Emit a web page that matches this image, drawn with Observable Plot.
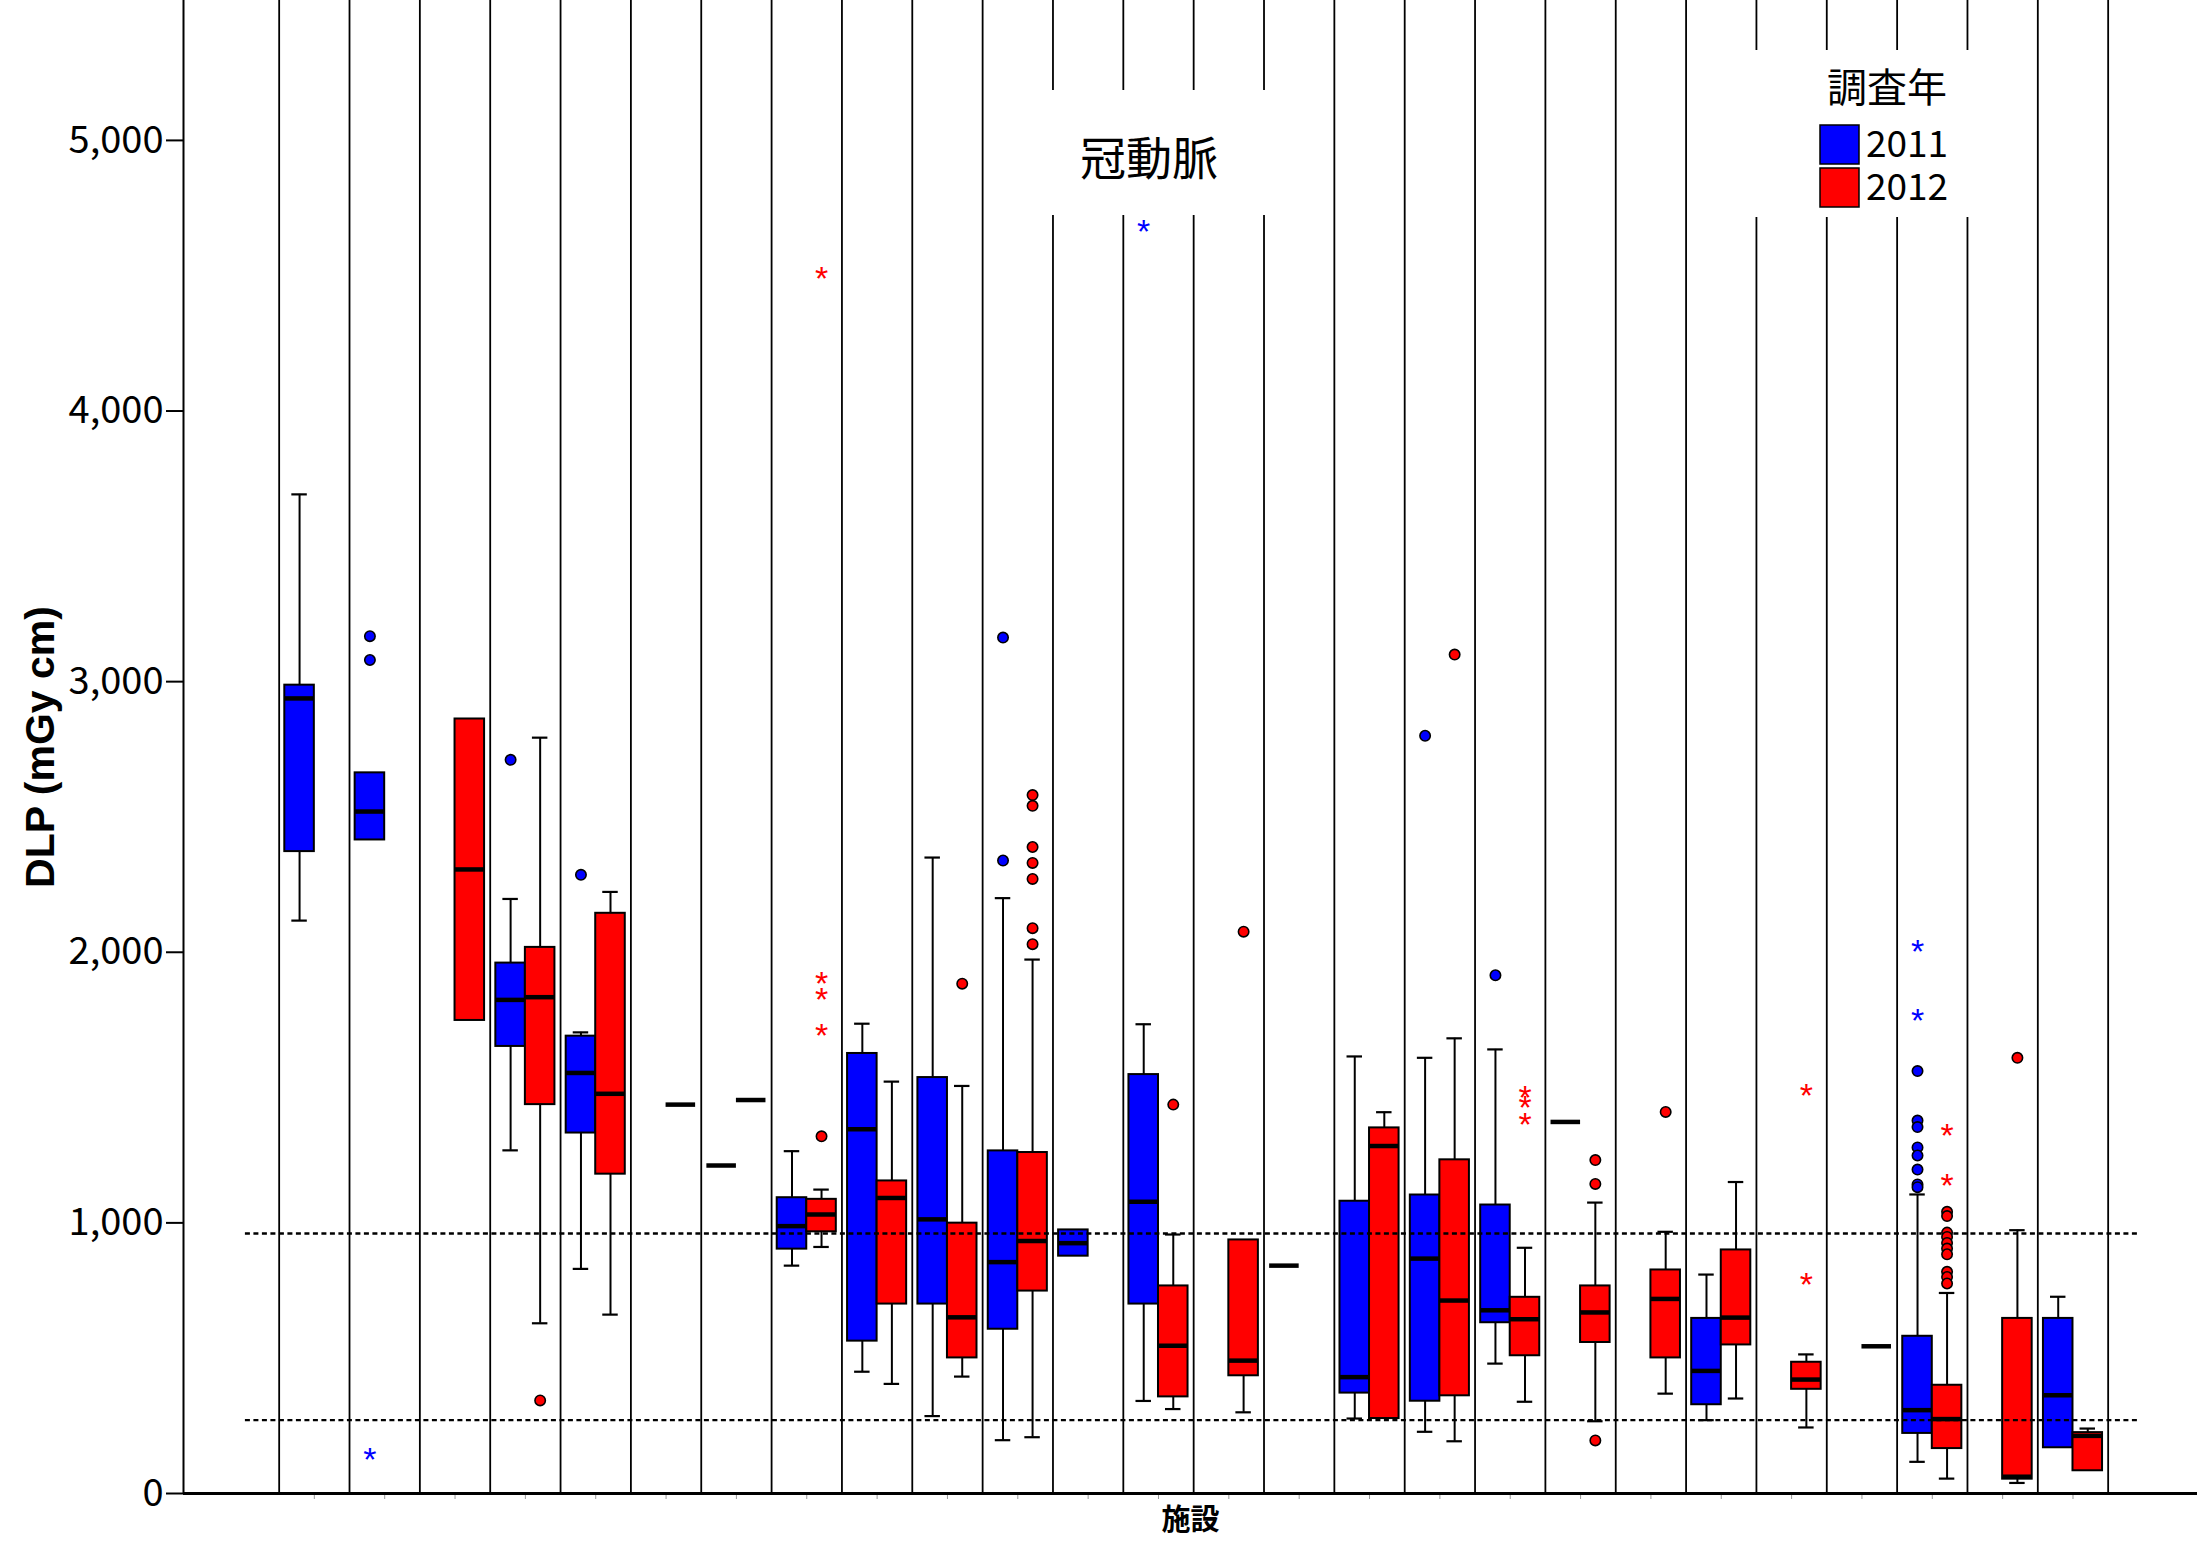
<!DOCTYPE html>
<html>
<head>
<meta charset="utf-8">
<script src="https://cdn.jsdelivr.net/npm/d3@7"></script>
<script src="https://cdn.jsdelivr.net/npm/@observablehq/plot@0.6"></script>
<style>
html, body { margin: 0; padding: 0; background: #fff; }
#chart { width: 2197px; height: 1551px; overflow: hidden; }
</style>
</head>
<body>
<div id="chart"></div>
<script>
// ---- data ----
const facilities = [1, 2, 3, 4, 5, 6, 7, 8, 9, 10, 11, 12, 13, 14, 15, 16, 17, 18, 19, 20, 21, 22, 23, 24, 25, 26];
const years = ["2011", "2012"];
const yearColors = ["#0000ff", "#ff0000"];
const yTicks = [0, 1000, 2000, 3000, 4000, 5000];
const referenceLevels = [271, 961];

// [facility, lower whisker, Q1, median, Q3, upper whisker]
const stats2011 = [
  [1, 2117, 2372, 2938, 2987, 3692],
  [2, 2415, 2415, 2520, 2663, 2663],
  [4, 1268, 1652, 1824, 1960, 2197],
  [5, 830, 1332, 1554, 1690, 1704],
  [7, 1212, 1212, 1212, 1212, 1212],
  [8, 842, 903, 988, 1093, 1265],
  [9, 450, 563, 1346, 1626, 1736],
  [10, 286, 700, 1013, 1537, 2350],
  [11, 197, 607, 855, 1266, 2200],
  [12, 877, 877, 925, 974, 974],
  [13, 342, 700, 1078, 1548, 1734],
  [15, 842, 842, 842, 842, 842],
  [16, 277, 371, 430, 1080, 1615],
  [17, 228, 341, 868, 1103, 1610],
  [18, 480, 631, 677, 1066, 1641],
  [19, 1373, 1373, 1373, 1373, 1373],
  [21, 271, 328, 453, 647, 809],
  [24, 117, 222, 308, 581, 1105],
  [26, 169, 169, 363, 647, 727]
];
const stats2012 = [
  [3, 1748, 1748, 2306, 2862, 2862],
  [4, 629, 1437, 1834, 2018, 2793],
  [5, 661, 1180, 1477, 2144, 2223],
  [6, 1437, 1437, 1437, 1437, 1437],
  [7, 1454, 1454, 1454, 1454, 1454],
  [8, 911, 967, 1031, 1087, 1123],
  [9, 405, 700, 1092, 1155, 1522],
  [10, 432, 501, 651, 999, 1506],
  [11, 208, 748, 933, 1260, 1973],
  [13, 312, 357, 546, 767, 957],
  [14, 300, 435, 491, 937, 937],
  [16, 277, 277, 1284, 1351, 1409],
  [17, 193, 361, 713, 1233, 1682],
  [18, 339, 509, 644, 725, 908],
  [19, 267, 558, 669, 767, 1075],
  [20, 369, 501, 719, 826, 967],
  [21, 351, 549, 650, 900, 1151],
  [22, 244, 385, 421, 485, 514],
  [23, 544, 544, 544, 544, 544],
  [24, 55, 166, 275, 400, 741],
  [25, 39, 53, 62, 647, 973],
  [26, 84, 84, 213, 225, 240]
];

// outliers (circles): [facility, value]
const outliers2011 = [
  [2, 3168], [2, 3080], [4, 2711], [5, 2286], [11, 3163], [11, 2339], [17, 2800], [18, 1915],
  [24, 1561], [24, 1378], [24, 1354], [24, 1279], [24, 1249], [24, 1197], [24, 1142], [24, 1132]
];
const outliers2012 = [
  [4, 344], [8, 1320], [10, 1884],
  [11, 2581], [11, 2541], [11, 2389], [11, 2330], [11, 2271], [11, 2089], [11, 2030],
  [13, 1437], [14, 2076], [17, 3100], [19, 1232], [19, 1144], [19, 196], [20, 1410],
  [24, 1041], [24, 1025], [24, 964], [24, 948], [24, 926], [24, 905], [24, 884], [24, 819], [24, 800], [24, 776],
  [25, 1610]
];
// extreme values (asterisks): [facility, value]
const extremes2011 = [[2, 139], [13, 4679], [24, 2018], [24, 1761]];
const extremes2012 = [
  [8, 4503], [8, 1900], [8, 1840], [8, 1707], [18, 1478], [18, 1442], [18, 1378],
  [22, 1485], [22, 788], [24, 1339], [24, 1151]
];

// ---- tables built from the arrays ----
const toBoxes = (stats, year) => stats.map(([facility, lo, q1, med, q3, hi]) => ({facility, year, lo, q1, med, q3, hi}));
const toPoints = (list, year) => list.map(([facility, value]) => ({facility, year, value}));
const boxes = [...toBoxes(stats2011, years[0]), ...toBoxes(stats2012, years[1])];
const outliers = [...toPoints(outliers2011, years[0]), ...toPoints(outliers2012, years[1])];
const extremes = [...toPoints(extremes2011, years[0]), ...toPoints(extremes2012, years[1])];

const half = 0.21;     // half box width, in facility units
const cap = 0.11;      // half whisker-cap width
const cx = d => d.facility + (d.year === years[0] ? -half : half);
const separators = [...facilities.map(f => f - 0.5), facilities[facilities.length - 1] + 0.5];
const xDomain = [-0.86, 27.77];

const upper = boxes.filter(d => d.hi > d.q3);
const lower = boxes.filter(d => d.lo < d.q1);
const realBoxes = boxes.filter(d => d.q3 > d.q1);

const chart = Plot.plot({
  width: 2197,
  height: 1551,
  marginLeft: 183,
  marginRight: 0,
  marginTop: 0,
  marginBottom: 58,
  style: {fontFamily: "'Noto Sans CJK JP', sans-serif", fontSize: "38px", color: "#000", background: "#fff"},
  x: {domain: xDomain, ticks: facilities, tickFormat: () => "", tickSize: 6, label: null},
  y: {domain: [0, 5517], ticks: yTicks, tickFormat: d3.format(","), tickSize: 17, tickPadding: 3, label: null},
  color: {domain: years, range: yearColors},
  marks: [
    Plot.ruleX(separators, {stroke: "#000", strokeWidth: 1.8}),
    Plot.ruleX(upper, {x: cx, y1: "q3", y2: "hi", stroke: "#000", strokeWidth: 2}),
    Plot.ruleX(lower, {x: cx, y1: "lo", y2: "q1", stroke: "#000", strokeWidth: 2}),
    Plot.ruleY(upper, {y: "hi", x1: d => cx(d) - cap, x2: d => cx(d) + cap, stroke: "#000", strokeWidth: 2.2}),
    Plot.ruleY(lower, {y: "lo", x1: d => cx(d) - cap, x2: d => cx(d) + cap, stroke: "#000", strokeWidth: 2.2}),
    Plot.rect(realBoxes, {x1: d => cx(d) - half, x2: d => cx(d) + half, y1: "q1", y2: "q3", fill: "year", stroke: "#000", strokeWidth: 2}),
    Plot.ruleY(boxes, {y: "med", x1: d => cx(d) - half, x2: d => cx(d) + half, stroke: "#000", strokeWidth: 4.5}),
    Plot.ruleY(referenceLevels, {x1: 0.02, x2: 26.93, stroke: "#000", strokeWidth: 2.4, strokeDasharray: "5 3.5"}),
    Plot.dot(outliers, {x: cx, y: "value", r: 5.2, fill: "year", stroke: "#000", strokeWidth: 1.6}),
    Plot.text(extremes, {x: cx, y: "value", text: () => "*", fill: "year", fontSize: 34, dy: 4.5, fontFamily: "'Liberation Sans', sans-serif"}),
    Plot.ruleY([0], {stroke: "#000", strokeWidth: 3}),
    Plot.ruleX([xDomain[0]], {stroke: "#000", strokeWidth: 2}),
    Plot.text(["DLP (mGy cm)"], {text: d => d, frameAnchor: "left", textAnchor: "middle", dx: -143, rotate: -90, fontSize: 41, fontWeight: "bold", fontFamily: "'Liberation Sans', sans-serif"}),
    Plot.text(["施設"], {text: d => d, frameAnchor: "bottom", textAnchor: "middle", dy: 36, fontSize: 29, fontWeight: "bold"})
  ]
});

document.getElementById("chart").appendChild(chart);

const svg = d3.select(chart);
svg.selectAll('g[aria-label="x-axis tick"]').attr("stroke", "#999").attr("stroke-width", 1);
svg.selectAll('g[aria-label="y-axis tick"]').attr("stroke-width", 2);

// title panel
const title = svg.append("g");
title.append("rect").attr("x", 1012).attr("y", 90).attr("width", 276).attr("height", 125).attr("fill", "#fff");
title.append("text").attr("x", 1149).attr("y", 159).attr("dy", "0.35em").attr("text-anchor", "middle")
  .attr("font-size", 46).attr("fill", "#000").text("冠動脈");

// legend panel
const legend = svg.append("g");
legend.append("rect").attr("x", 1722).attr("y", 50).attr("width", 288).attr("height", 167).attr("fill", "#fff");
legend.append("text").attr("x", 1887).attr("y", 88).attr("dy", "0.35em").attr("text-anchor", "middle")
  .attr("font-size", 40).attr("fill", "#000").text("調査年");
const colorScale = chart.scale("color");
years.forEach((yr, i) => {
  legend.append("rect").attr("x", 1820).attr("y", 125 + i * 43).attr("width", 39).attr("height", 39)
    .attr("fill", colorScale.apply(yr)).attr("stroke", "#000").attr("stroke-width", 1.5);
  legend.append("text").attr("x", 1866).attr("y", 144 + i * 43).attr("dy", "0.35em").attr("text-anchor", "start")
    .attr("font-size", 37).attr("fill", "#000").text(yr);
});
</script>
</body>
</html>
